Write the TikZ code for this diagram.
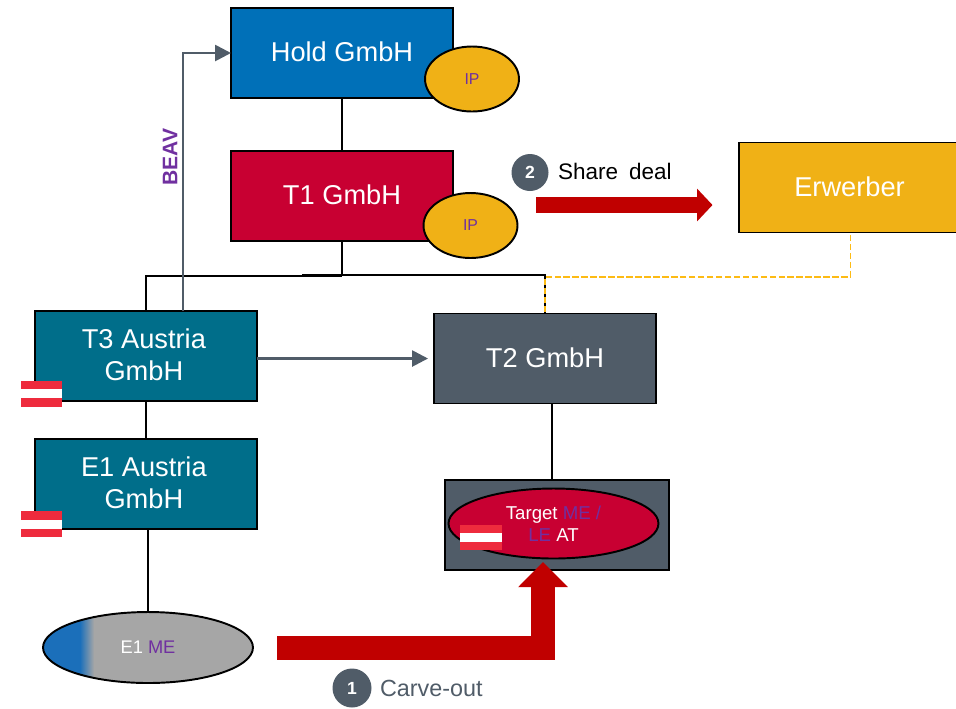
\documentclass[tikz,border=0pt]{standalone}
\usepackage{fontspec}
\setmainfont{Liberation Sans}
\usetikzlibrary{shapes.geometric,arrows.meta}
\definecolor{holdblue}{HTML}{0070B8}
\definecolor{crimson}{HTML}{C80032}
\definecolor{teal}{HTML}{006E8A}
\definecolor{slate}{HTML}{505C68}
\definecolor{amber}{HTML}{F0B116}
\definecolor{dashamber}{HTML}{FDBB14}
\definecolor{darkred}{HTML}{C00000}
\definecolor{violet}{HTML}{7030A0}
\definecolor{flagred}{HTML}{EE2B3D}
\definecolor{meblue}{HTML}{1B6FBA}
\definecolor{megrey}{HTML}{A6A6A6}
\tikzset{
  entity/.style={draw=black,line width=1.1pt,minimum width=4.44cm,minimum height=1.8cm,inner sep=0pt,outer sep=0pt,
    text=white,align=center,text depth=1.4pt,font=\fontsize{15.5}{18.1}\selectfont},
  ipmark/.style={draw=black,line width=1.1pt,ellipse,fill=amber,minimum width=1.88cm,minimum height=1.3cm,inner sep=0pt,outer sep=0pt,
    text=violet,font=\fontsize{9}{11}\selectfont},
  oval/.style={draw=black,line width=1.1pt,ellipse,inner sep=0pt,outer sep=0pt,align=center,text=white,
    font=\fontsize{10.6}{12.5}\selectfont},
  flag/.style={fill=flagred,minimum width=0.82cm,minimum height=0.52cm,inner sep=0pt,outer sep=0pt,
    path picture={\fill[white] ([yshift=0.09cm]path picture bounding box.west) rectangle ([yshift=-0.09cm]path picture bounding box.east);}},
  badge/.style={circle,fill=slate,minimum size=0.74cm,inner sep=0pt,outer sep=0pt,text=white,font=\fontsize{10}{12}\bfseries\selectfont},
  caption/.style={inner sep=0pt,outer sep=0pt,font=\fontsize{13.3}{16}\selectfont},
  link/.style={draw=black,line width=1.1pt},
  relation/.style={draw=slate,line width=1.5pt,-{Triangle[length=0.32cm,width=0.32cm]}},
  move/.style={draw=darkred,-{Triangle[length=0.5cm,width=0.96cm]}}
}
\begin{document}
\begin{tikzpicture}[x=0.02cm,y=-0.02cm]
  \useasboundingbox (0,0) rectangle (956,708);

  \node[entity,fill=holdblue] (hold) at (342,53) {Hold GmbH};
  \node[entity,fill=crimson] (tone) at (342,196) {T1 GmbH};
  \node[entity,fill=teal] (tthree) at (146,356) {T3 Austria\hspace*{2.4pt}\\GmbH\hspace*{2.4pt}};
  \node[entity,fill=teal] (eone) at (146,484) {E1 Austria\hspace*{2.4pt}\\GmbH\hspace*{2.4pt}};
  \node[entity,fill=slate] (ttwo) at (545,358.5) {T2 GmbH};
  \node[entity,fill=amber,minimum width=4.42cm,minimum height=1.8cm] (erwerber) at (849.5,187.5) {Erwerber};
  \node[entity,fill=slate,minimum width=4.48cm] (tbox) at (557,525) {};

  \node[ipmark] (iphold) at (472,79) {IP};
  \node[ipmark] (iptone) at (470.5,225.5) {IP};

  \node[oval,fill=crimson,minimum width=4.2cm,minimum height=1.4cm] (target) at (553.5,523.5)
    {Target \textcolor{violet}{ME /}\\\textcolor{violet}{LE} AT};
  \node[oval,fill=megrey,minimum width=4.2cm,minimum height=1.42cm,font=\fontsize{10.4}{12.5}\selectfont,
    path picture={
      \fill[meblue] (path picture bounding box.south west) rectangle ([xshift=0.74cm]path picture bounding box.north west);
      \shade[left color=meblue,right color=megrey] ([xshift=0.74cm]path picture bounding box.south west) rectangle ([xshift=1.02cm]path picture bounding box.north west);
    }] (eme) at (148,647.5) {E1 \textcolor{violet}{ME}};

  \node[flag] (flagthree) at (41.5,393.5) {};
  \node[flag] (flagone) at (41.5,524) {};
  \node[flag,minimum width=0.84cm,minimum height=0.5cm] (flagtarget) at (481,537.5) {};

  \node[badge] (two) at (530,172.5) {2};
  \node[badge,minimum size=0.78cm] (one) at (352,688) {1};
  \node[caption,anchor=west,font=\fontsize{12.8}{16}\selectfont] (share) at (558,171) {Share\hspace{2.8pt} deal};
  \node[caption,anchor=west,text=slate] (carve) at (380,688) {Carve-out};
  \node[inner sep=0pt,rotate=90,text=violet,font=\fontsize{12}{14}\bfseries\selectfont] (beav) at (170,157) {BEAV};

  \coordinate (tbusl) at (342,276);
  \coordinate (tbusr) at (302,275);
  \coordinate (ebus) at (545,277);
  \coordinate (carvestart) at (277,648);
  \coordinate (carvetip) at (543,562);
  \coordinate (sharestart) at (536,205);
  \coordinate (sharetip) at (712.5,205);

  \draw[link] (hold.south) -- (tone.north);
  \draw[link] (tone.south) -- (tbusl);
  \draw[link] (tthree.north) |- (tbusl);
  \draw[link] (tbusr) -| (ttwo.north);
  \draw[link] (tthree.south) -- (eone.north);
  \draw[link] (eme.north) -- (eme.north |- eone.south);
  \draw[link] ([xshift=-0.1cm]tbox.north) -- ([xshift=-0.1cm]tbox.north |- ttwo.south);

  \draw[dashamber,line width=1.1pt,dash pattern=on 3.7pt off 1.4pt,dash phase=3.7pt] ([xshift=0.02cm]erwerber.south) |- (ebus) -- (ttwo.north);

  \draw[relation] ([xshift=0.74cm]tthree.north) |- (hold.west);
  \draw[relation] (tthree.east |- ttwo.west) -- ([xshift=-0.12cm]ttwo.west);

  \draw[move,line width=0.48cm] (carvestart) -| (carvetip);
  \draw[move,line width=0.32cm,-{Triangle[length=0.31cm,width=0.64cm]}] (sharestart) -- (sharetip);
\end{tikzpicture}
\end{document}
